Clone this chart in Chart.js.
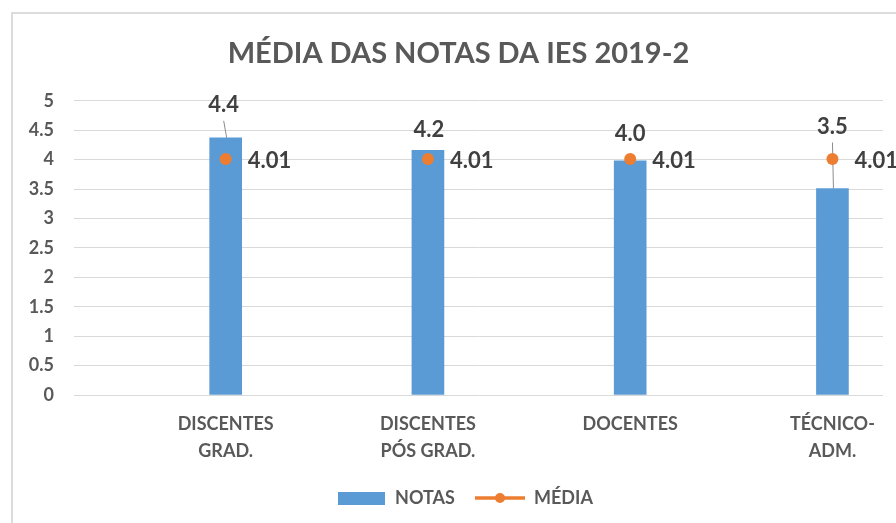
<!DOCTYPE html>
<html><head><meta charset="utf-8">
<script src="https://cdn.jsdelivr.net/npm/chart.js@4.4.0/dist/chart.umd.min.js"></script>
<style>
html,body{margin:0;padding:0;background:#fff;}
#wrap{position:relative;width:896px;height:523px;overflow:hidden;}
#frame{position:absolute;left:11px;top:12px;width:900px;height:520px;border-top:2px solid #dcdcdc;border-left:2px solid #dcdcdc;}
canvas{position:absolute;left:0;top:0;}
</style></head><body>
<div id="wrap"><div id="frame"></div><canvas id="c" width="896" height="523"></canvas></div>
<script>
// ---- data ----
const chartTitle = 'MÉDIA DAS NOTAS DA IES 2019-2';
const categories = [['DISCENTES', 'GRAD.'], ['DISCENTES', 'PÓS GRAD.'], ['DOCENTES'], ['TÉCNICO-', 'ADM.']];
const notas = [4.37, 4.16, 3.98, 3.51];
const media = [4.01, 4.01, 4.01, 4.01];
const yTicks = [0, 0.5, 1, 1.5, 2, 2.5, 3, 3.5, 4, 4.5, 5];
const seriesNames = ['NOTAS', 'MÉDIA'];

// ---- style ----
const BLUE = '#5B9BD5', ORANGE = '#ED7D31', TXT = '#595959', DARK = '#404040';
const FONT = 'Lato, "Open Sans", sans-serif';
Chart.defaults.font.family = FONT;

function makeIcon(w, h, draw) {
  const c = document.createElement('canvas'); c.width = w; c.height = h;
  draw(c.getContext('2d')); return c;
}
const notasIcon = makeIcon(47, 13, g => { g.fillStyle = BLUE; g.fillRect(0, 0, 47, 13); });
const mediaIcon = makeIcon(50, 12, g => {
  g.strokeStyle = ORANGE; g.lineWidth = 3.5; g.beginPath(); g.moveTo(0, 6); g.lineTo(50, 6); g.stroke();
  g.fillStyle = ORANGE; g.beginPath(); g.arc(25, 6, 5, 0, Math.PI * 2); g.fill();
});

// label placement (pixels above bar top, x shift, leader line)
const labelPlacement = [
  { dy: 33, dx: -2, leader: true },
  { dy: 20, dx: 1, leader: false },
  { dy: 27, dx: 0, leader: false },
  { dy: 62, dx: 0, leader: true }
];

const labelsPlugin = {
  id: 'labelsPlugin',
  afterLayout(chart) {
    // the original chart was wider than the crop: title and legend centre further right
    chart.titleBlock.left += 17; chart.titleBlock.right += 17;
    chart.legend.left += 23; chart.legend.right += 23;
  },
  beforeDatasetsDraw(chart) {
    const ctx = chart.ctx;
    const bars = chart.getDatasetMeta(0).data;
    ctx.save();
    ctx.strokeStyle = '#8c8c8c'; ctx.lineWidth = 1;
    bars.forEach((b, i) => {
      const p = labelPlacement[i];
      if (!p.leader) return;
      const lx = b.x + p.dx, ly = b.y - p.dy + 16;
      ctx.beginPath(); ctx.moveTo(lx, ly); ctx.lineTo(b.x + 1, b.y); ctx.stroke();
    });
    ctx.restore();
  },
  afterDatasetsDraw(chart) {
    const ctx = chart.ctx;
    const bars = chart.getDatasetMeta(0).data;
    const pts = chart.getDatasetMeta(1).data;
    ctx.save();
    ctx.font = 'bold 22px ' + FONT;
    ctx.fillStyle = DARK;
    ctx.textBaseline = 'middle';
    bars.forEach((b, i) => {
      const p = labelPlacement[i];
      ctx.textAlign = 'center';
      ctx.fillText(notas[i].toFixed(1), b.x + p.dx, b.y - p.dy);
    });
    pts.forEach((pt, i) => {
      ctx.textAlign = 'left';
      ctx.fillText(media[i].toFixed(2), pt.x + 22, pt.y + 2);
    });
    ctx.restore();
  }
};

new Chart(document.getElementById('c'), {
  type: 'bar',
  data: {
    datasets: [
      {
        type: 'bar', label: seriesNames[0], order: 2,
        data: notas.map((v, i) => ({ x: i, y: v })),
        backgroundColor: BLUE, barThickness: 32
      },
      {
        type: 'line', label: seriesNames[1], order: 1,
        data: media.map((v, i) => ({ x: i, y: v })),
        showLine: false, borderColor: ORANGE, backgroundColor: ORANGE,
        pointRadius: 6, pointHoverRadius: 6, pointBorderWidth: 0
      }
    ]
  },
  options: {
    responsive: false, animation: false,
    layout: { padding: { left: 0, right: 13, top: 0, bottom: 6 } },
    plugins: {
      tooltip: { enabled: false },
      title: {
        display: true, text: chartTitle, color: TXT,
        font: { size: 29, weight: 'bold', family: FONT },
        padding: { top: 36, bottom: 30 }
      },
      legend: {
        position: 'bottom',
        labels: {
          usePointStyle: true, pointStyleWidth: 50, padding: 20,
          color: TXT, font: { size: 18, weight: 'bold', family: FONT },
          sort: (a, b) => a.datasetIndex - b.datasetIndex,
          generateLabels(chart) {
            const items = Chart.defaults.plugins.legend.labels.generateLabels(chart);
            items.forEach(it => {
              it.pointStyle = it.datasetIndex === 0 ? notasIcon : mediaIcon;
              it.fontColor = TXT;
            });
            return items;
          }
        }
      }
    },
    scales: {
      x: {
        type: 'linear', min: -0.75, max: 3.25, offset: false,
        grid: { display: false }, border: { display: false },
        afterBuildTicks: s => { s.ticks = categories.map((_, i) => ({ value: i })); },
        afterFit: s => { s.height = 74; },
        ticks: {
          autoSkip: false, maxRotation: 0, padding: 8, color: TXT,
          font: { size: 18, weight: 'bold', family: FONT, lineHeight: 1.5 },
          callback: v => categories[v] || ''
        }
      },
      y: {
        min: 0, max: 5,
        afterBuildTicks: s => { s.ticks = yTicks.map(v => ({ value: v })); },
        afterFit: s => { s.width = 74; },
        grid: { color: '#d9d9d9', lineWidth: 1, drawTicks: false },
        border: { display: false },
        ticks: {
          padding: 20, color: TXT,
          font: { size: 18, weight: 'bold', family: FONT },
          callback: v => String(v)
        }
      }
    }
  },
  plugins: [labelsPlugin]
});
</script>
</body></html>
